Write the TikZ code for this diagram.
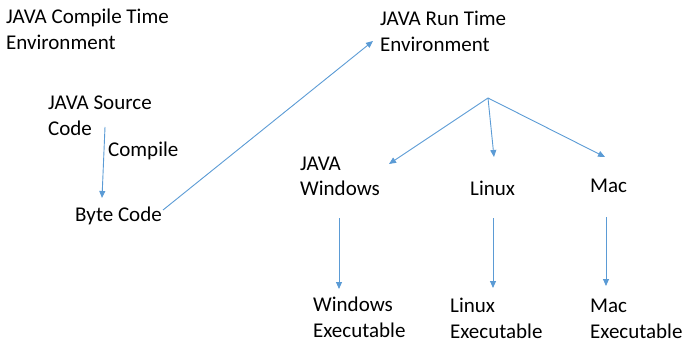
\documentclass[tikz,border=0pt]{standalone}
\usepackage{fontspec}
\setmainfont{Carlito}
\usetikzlibrary{arrows.meta}
\definecolor{arrowblue}{HTML}{5B9BD5}

\tikzset{
  lbl/.style={anchor=base west, inner sep=0pt, align=left, font=\fontsize{21}{25.5}\selectfont},
  flow/.style={draw=arrowblue, line width=0.9pt, -{Triangle[length=7pt,width=6pt]}}
}

\begin{document}
\begin{tikzpicture}[x=1pt,y=-1pt]
  \useasboundingbox (0,0) rectangle (683,342);
  % compile time side (base = last line)
  \node[lbl] (compenv) at (6,49.5) {JAVA Compile Time\\Environment};
  \node[lbl] (source) at (48,135.5) {JAVA Source\\Code};
  \node[lbl] (compile) at (108,157) {Compile};
  \node[lbl] (byte) at (75,222) {Byte Code};
  % run time side
  \node[lbl] (runenv) at (380,51.5) {JAVA Run Time\\Environment};
  \node[lbl] (win) at (300,196) {JAVA\\Windows};
  \node[lbl] (linux) at (470,195) {Linux};
  \node[lbl] (mac) at (590,193) {Mac};
  \node[lbl] (winexe) at (313,337) {Windows\\Executable};
  \node[lbl] (linexe) at (450,338) {Linux\\Executable};
  \node[lbl] (macexe) at (590,338) {Mac\\Executable};
  % arrow ends
  \coordinate (source out) at (105,127);
  \coordinate (byte in) at (102,198);
  \coordinate (byte out) at (163,210);
  \coordinate (runenv in) at (373,41);
  \coordinate (fork) at (488,98);
  \coordinate (win in) at (389,164);
  \coordinate (linux in) at (494,157);
  \coordinate (mac in) at (605,157);
  \coordinate (win out) at (339,218);
  \coordinate (winexe in) at (339,289);
  \coordinate (linux out) at (493,218);
  \coordinate (linexe in) at (493,288);
  \coordinate (mac out) at (606,217);
  \coordinate (macexe in) at (606,286);
  % connectors
  \draw[flow] (source out) -- (byte in);
  \draw[flow] (byte out) -- (runenv in);
  \draw[flow] (fork) -- (win in);
  \draw[flow] (fork) -- (linux in);
  \draw[flow] (fork) -- (mac in);
  \draw[flow] (win out) -- (winexe in);
  \draw[flow] (linux out) -- (linexe in);
  \draw[flow] (mac out) -- (macexe in);
\end{tikzpicture}
\end{document}
